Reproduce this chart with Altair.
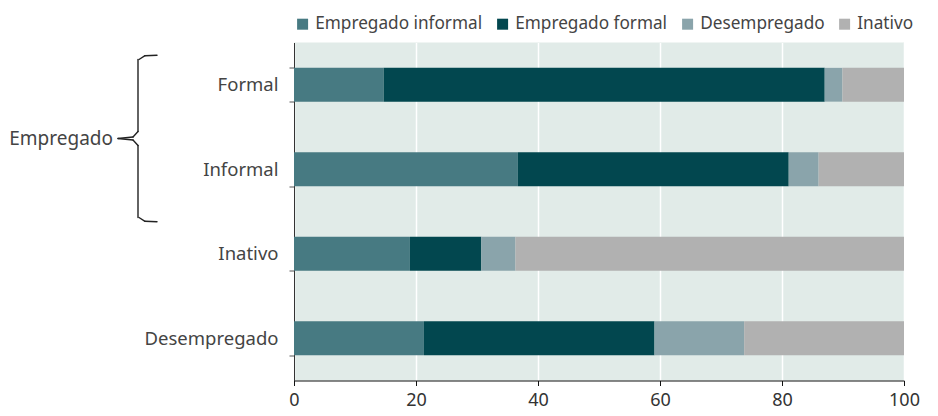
import altair as alt
import pandas as pd

categories = ["Formal", "Informal", "Inativo", "Desempregado"]
series = ["Empregado informal", "Empregado formal", "Desempregado", "Inativo"]
emp_informal = [14.7, 36.7, 19.0, 21.3]
emp_formal = [72.3, 44.4, 11.7, 37.8]
desempregado = [2.9, 4.9, 5.6, 14.7]
inativo = [10.1, 14.0, 63.7, 26.2]
colors = ["#477A82", "#02474F", "#8AA4AB", "#B1B1B1"]
x_ticks = [0, 20, 40, 60, 80, 100]
group_label = "Empregado"

rows = []
for s_idx, (s, vals) in enumerate(zip(series, [emp_informal, emp_formal, desempregado, inativo])):
    for c, v in zip(categories, vals):
        rows.append({"categoria": c, "situacao": s, "valor": v, "ordem": s_idx})
df = pd.DataFrame(rows)

FONT = "Noto Sans"

bars = alt.Chart(df).mark_bar().encode(
    y=alt.Y("categoria:N", sort=categories, title=None,
            scale=alt.Scale(paddingInner=0.6, paddingOuter=0.3),
            axis=alt.Axis(tickBand="extent", labelFontSize=18.5, labelColor="#444444",
                          labelFont=FONT, labelPadding=11, tickSize=5,
                          domainColor="#333333", tickColor="#555555", grid=False)),
    x=alt.X("valor:Q", stack="zero", title=None,
            scale=alt.Scale(domain=[0, 100], nice=False),
            axis=alt.Axis(values=x_ticks, labelFontSize=18, labelColor="#333333",
                          labelFont=FONT, tickSize=5, labelPadding=6,
                          domainColor="#111111", tickColor="#111111",
                          gridColor="#ffffff", gridWidth=1.5, labelFlush=False)),
    color=alt.Color("situacao:N", sort=series,
                    scale=alt.Scale(domain=series, range=colors),
                    legend=alt.Legend(orient="top", direction="horizontal", title=None,
                                      symbolType="square", symbolSize=121,
                                      symbolStrokeWidth=0, labelFontSize=17.2,
                                      labelFont=FONT, labelColor="#444444",
                                      labelLimit=400,
                                      columnPadding=11, offset=10, symbolOffset=0,
                                      labelOffset=4, padding=0)),
    order=alt.Order("ordem:Q", sort="ascending"),
)

label = alt.Chart(pd.DataFrame({"t": [group_label]})).mark_text(
    align="right", baseline="middle", fontSize=19, font=FONT, color="#444444"
).encode(text="t:N", x=alt.value(-181), y=alt.value(96))

brace_segments = [
    (-137, 12.7, -149, 13.2), (-149, 13.2, -155, 17),
    (-156, 17, -156, 89), (-156, 89, -161, 94.5), (-161, 94.5, -176, 96),
    (-176, 96, -161, 97.5), (-161, 97.5, -156, 103),
    (-156, 103, -156, 175), (-155, 175, -149, 178.8), (-149, 178.8, -137, 179.3),
]
brace_layers = []
for (x1, y1, x2, y2) in brace_segments:
    brace_layers.append(
        alt.Chart(pd.DataFrame({"k": [0]})).mark_rule(
            color="#222222", strokeWidth=1.4, strokeCap="round"
        ).encode(x=alt.value(x1), y=alt.value(y1), x2=alt.value(x2), y2=alt.value(y2))
    )

chart = alt.layer(bars, label, *brace_layers).properties(
    width=610, height=338,
    padding={"left": 1, "top": 7.5, "right": 0, "bottom": 0},
).configure_view(fill="#E1EBE8", stroke=None)

chart.save("out.html", embed_options={"renderer": "svg", "actions": False})
